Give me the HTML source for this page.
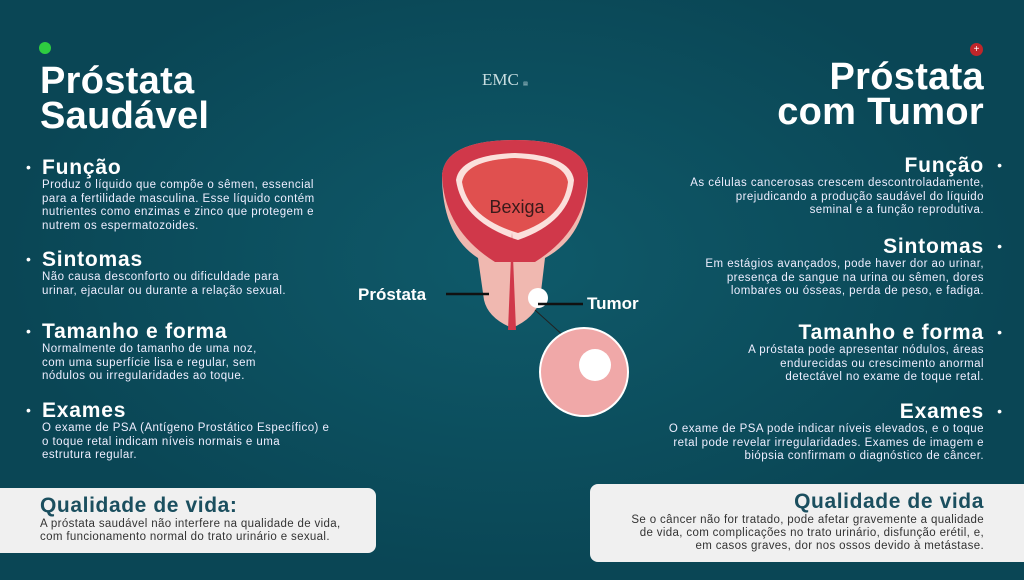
<!DOCTYPE html>
<html><head><meta charset="utf-8"><style>
body{margin:0;width:1024px;height:580px;overflow:hidden;background:#0c4e5e;font-family:"Liberation Sans",sans-serif;color:#fff;position:relative}
.a{position:absolute}
h1{margin:0;font-size:38px;line-height:35px;font-weight:bold;letter-spacing:0.3px}
.h{font-size:21px;font-weight:bold;line-height:22px;letter-spacing:0.8px}
.p{font-size:11.5px;line-height:13.5px;color:#eef;letter-spacing:0.45px}
.L{left:42px;width:340px}
.R{right:40px;width:400px;text-align:right}
.bl::before{content:"•";position:absolute;left:-16px;top:2px;font-size:14px}
.br::after{content:"•";position:absolute;right:-18px;top:2px;font-size:14px}
.box{background:#f0f0f0;color:#333;border-radius:8px}
.box b{color:#1b4f5f;font-size:21px;display:block;line-height:24px;letter-spacing:0.6px}
.box span{font-size:11.5px;line-height:13px;display:block;letter-spacing:0.35px}
</style></head><body>
<div class="a" style="left:0;top:0;width:1024px;height:580px;background:radial-gradient(ellipse at 50% 45%,#0f5a6a,#0a4655 70%)"></div>
<div class="a" style="left:39px;top:42px;width:12px;height:12px;border-radius:50%;background:#2ecc40"></div>
<div class="a" style="left:970px;top:43px;width:13px;height:13px;border-radius:50%;background:#c0262a;color:#fff;font-size:10px;line-height:13px;text-align:center">+</div>
<h1 class="a" style="left:40px;top:64px">Próstata<br>Saudável</h1>
<h1 class="a" style="right:40px;top:60px;text-align:right">Próstata<br>com Tumor</h1>
<div class="a" style="left:482px;top:70px;font-family:'Liberation Serif',serif;font-size:17px;color:#c8dde0">EMC <span style="font-size:5px">▤</span></div>

<div class="a L bl" style="top:157px"><div class="h">Função</div><div class="p">Produz o líquido que compõe o sêmen, essencial<br>para a fertilidade masculina. Esse líquido contém<br>nutrientes como enzimas e zinco que protegem e<br>nutrem os espermatozoides.</div></div>
<div class="a L bl" style="top:249px"><div class="h">Sintomas</div><div class="p">Não causa desconforto ou dificuldade para<br>urinar, ejacular ou durante a relação sexual.</div></div>
<div class="a L bl" style="top:321px"><div class="h">Tamanho e forma</div><div class="p">Normalmente do tamanho de uma noz,<br>com uma superfície lisa e regular, sem<br>nódulos ou irregularidades ao toque.</div></div>
<div class="a L bl" style="top:400px"><div class="h">Exames</div><div class="p">O exame de PSA (Antígeno Prostático Específico) e<br>o toque retal indicam níveis normais e uma<br>estrutura regular.</div></div>

<div class="a R br" style="top:155px"><div class="h">Função</div><div class="p">As células cancerosas crescem descontroladamente,<br>prejudicando a produção saudável do líquido<br>seminal e a função reprodutiva.</div></div>
<div class="a R br" style="top:236px"><div class="h">Sintomas</div><div class="p">Em estágios avançados, pode haver dor ao urinar,<br>presença de sangue na urina ou sêmen, dores<br>lombares ou ósseas, perda de peso, e fadiga.</div></div>
<div class="a R br" style="top:322px"><div class="h">Tamanho e forma</div><div class="p">A próstata pode apresentar nódulos, áreas<br>endurecidas ou crescimento anormal<br>detectável no exame de toque retal.</div></div>
<div class="a R br" style="top:401px"><div class="h">Exames</div><div class="p">O exame de PSA pode indicar níveis elevados, e o toque<br>retal pode revelar irregularidades. Exames de imagem e<br>biópsia confirmam o diagnóstico de câncer.</div></div>

<div class="a box" style="left:-10px;top:488px;width:386px;height:65px;padding:0 0 0 50px;box-sizing:border-box"><b style="margin-top:6px">Qualidade de vida:</b><span>A próstata saudável não interfere na qualidade de vida,<br>com funcionamento normal do trato urinário e sexual.</span></div>
<div class="a box" style="left:590px;top:484px;width:450px;height:78px;padding:6px 56px 0 0;box-sizing:border-box;text-align:right"><b>Qualidade de vida</b><span>Se o câncer não for tratado, pode afetar gravemente a qualidade<br>de vida, com complicações no trato urinário, disfunção erétil, e,<br>em casos graves, dor nos ossos devido à metástase.</span></div>

<svg class="a" style="left:0;top:0" width="1024" height="580">
<path d="M442 175 Q445 140 515 140 Q585 140 588 175 Q588 235 545 258 L540 300 Q535 318 512 328 Q488 318 484 300 L478 258 Q442 235 442 175 Z" fill="#f0b8b0"/>
<path d="M442 175 Q445 140 515 140 Q585 140 588 175 Q586 230 535 262 L495 262 Q444 230 442 175 Z" fill="#d0384a"/>
<path d="M456 180 Q460 155 515 153 Q570 155 574 180 Q570 222 518 240 Q462 222 456 180 Z" fill="#fbe0dc"/>
<path d="M462 182 Q466 160 515 158 Q564 160 568 182 Q564 218 518 233 Q468 218 462 182 Z" fill="#e0504f"/>
<path d="M512 232 L508 330 L516 330 Z" fill="#d0384a"/>
<text x="517" y="213" font-family="Liberation Sans" font-size="18" fill="#3a1a1a" text-anchor="middle">Bexiga</text>
<circle cx="538" cy="298" r="10" fill="#fff"/>
<line x1="446" y1="294" x2="489" y2="294" stroke="#111" stroke-width="2.5"/>
<line x1="538" y1="304" x2="583" y2="304" stroke="#111" stroke-width="2.5"/>
<line x1="535" y1="310" x2="585" y2="355" stroke="#222" stroke-width="1"/>
<circle cx="584" cy="372" r="44" fill="#f0a8a8" stroke="#fff" stroke-width="2"/>
<circle cx="595" cy="365" r="16" fill="#fff"/>
<text x="358" y="300" font-family="Liberation Sans" font-weight="bold" font-size="17" fill="#fff">Próstata</text>
<text x="587" y="309" font-family="Liberation Sans" font-weight="bold" font-size="17" fill="#fff">Tumor</text>
</svg>
</body></html>
